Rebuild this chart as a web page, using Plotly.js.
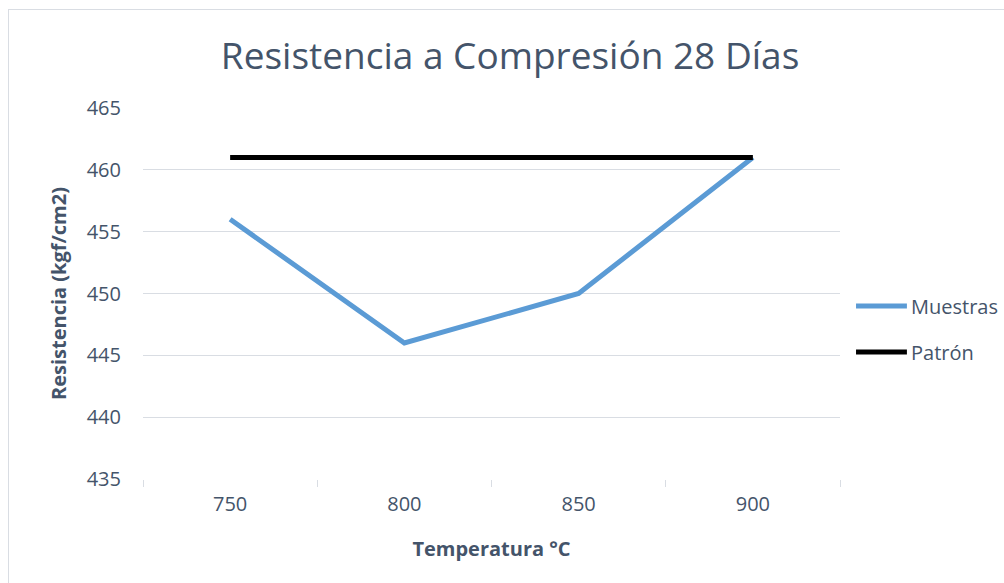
<!DOCTYPE html>
<html>
<head>
<meta charset="utf-8">
<script src="https://cdn.plot.ly/plotly-3.0.1.min.js"></script>
<style>
  html, body { margin: 0; padding: 0; background: #ffffff; overflow: hidden; }
  #frame { position: absolute; left: 8px; top: 9px; width: 1010px; height: 590px;
           border: 1px solid #d9dde3; box-sizing: border-box; }
  #chart { position: absolute; left: 0; top: 0; width: 1004px; height: 583px; }
</style>
</head>
<body>
<div id="frame"></div>
<div id="chart"></div>
<script>
// Temperature categories (°C)
const temperaturas = ['750', '800', '850', '900'];
// Compressive strength at 28 days (kgf/cm2)
const muestras = [456, 446, 450, 461];
const patron = [461, 461, 461, 461];
const yTicks = [435, 440, 445, 450, 455, 460, 465];

const textColor = '#44546a';
const gridColor = '#d9dde3';
const font = 'Open Sans, sans-serif';

const series = [
  { name: 'Muestras', y: muestras, color: '#5b9bd5' },
  { name: 'Patrón', y: patron, color: '#000000' }
];

const traces = series.map(s => ({
  x: temperaturas, y: s.y, name: s.name, type: 'scatter', mode: 'lines',
  line: { color: s.color, width: 5 }, showlegend: false
}));

// Legend on the right, drawn as paper-referenced samples and labels
const legendRows = [0.466, 0.342];
const legendShapes = series.map((s, i) => ({
  type: 'line', xref: 'paper', yref: 'paper',
  x0: 1.023, x1: 1.096, y0: legendRows[i], y1: legendRows[i],
  line: { color: s.color, width: 5 }
}));
const legendLabels = series.map((s, i) => ({
  xref: 'paper', yref: 'paper', x: 1.099, y: legendRows[i],
  xanchor: 'left', yanchor: 'middle', showarrow: false,
  text: s.name, font: { size: 20, color: textColor }
}));

const layout = {
  width: 1004, height: 583,
  margin: { l: 143, r: 164, t: 108, b: 104 },
  paper_bgcolor: 'rgba(0,0,0,0)',
  plot_bgcolor: 'rgba(0,0,0,0)',
  font: { family: font, color: textColor, size: 20 },
  title: {
    text: 'Resistencia a Compresión 28 Días',
    font: { family: font, size: 37, color: textColor },
    xref: 'container', x: 0.508, xanchor: 'center',
    yref: 'container', y: 0.904, yanchor: 'middle'
  },
  xaxis: {
    type: 'category', range: [-0.5, 3.5],
    showgrid: false, zeroline: false, showline: false,
    ticks: 'outside', tickson: 'boundaries', ticklen: 7, tickcolor: gridColor,
    ticklabelstandoff: 11,
    tickfont: { size: 20, color: textColor },
    title: { text: 'Temperatura °C', font: { size: 20, color: textColor, weight: 'bold' }, standoff: 25 }
  },
  yaxis: {
    range: [435, 465], tickvals: yTicks, ticktext: yTicks.map(String),
    showgrid: true, gridcolor: gridColor, gridwidth: 1.3, zeroline: false, showline: false,
    ticks: '', ticklabelstandoff: 21,
    tickfont: { size: 20, color: textColor },
    title: { text: 'Resistencia (kgf/cm2)', font: { size: 20, color: textColor, weight: 'bold' }, standoff: 14 }
  },
  showlegend: false,
  shapes: legendShapes,
  annotations: legendLabels
};

Plotly.newPlot('chart', traces, layout, { displayModeBar: false, staticPlot: true });
</script>
</body>
</html>
